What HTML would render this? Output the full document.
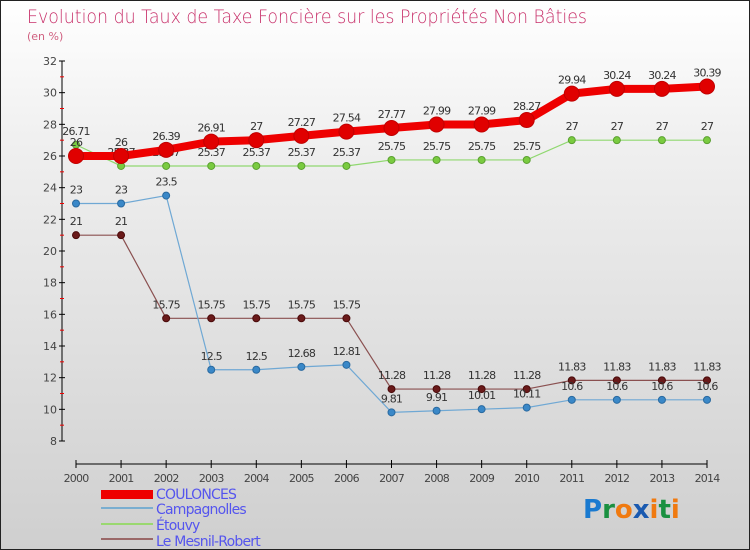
<!DOCTYPE html>
<html><head><meta charset="utf-8"><style>
body{margin:0}
#c{position:relative;width:748px;height:548px;border:1px solid #222;background:linear-gradient(#ffffff,#f0f0f0 25%,#cfcfcf);overflow:hidden;font-family:"DejaVu Sans","Liberation Sans",sans-serif}
</style></head><body>
<div id="c">
<svg id="s" width="748" height="548">
<text x="26" y="22" font-size="19" fill="#c8306a" font-weight="200" style="font-family:'DejaVu Sans',sans-serif;font-weight:200" textLength="560" lengthAdjust="spacingAndGlyphs">Evolution du Taux de Taxe Foncière sur les Propriétés Non Bâties</text>
<text x="26" y="39" font-size="11" fill="#d06080">(en %)</text>
<g id="axes"></g><g id="series"></g>
<g>
<rect x="100" y="489" width="52" height="9" fill="#e00"/>
<line x1="100" y1="507" x2="152" y2="507" stroke="#7aaed0" stroke-width="2"/>
<line x1="100" y1="523" x2="152" y2="523" stroke="#9ad870" stroke-width="2"/>
<line x1="100" y1="538" x2="152" y2="538" stroke="#9a6868" stroke-width="2"/>
<g font-size="14" fill="#5555ee" style="letter-spacing:-0.8px">
<text x="155" y="498">COULONCES</text>
<text x="155" y="513">Campagnolles</text>
<text x="155" y="529">Étouvy</text>
<text x="155" y="545">Le Mesnil-Robert</text>
</g></g>
<g font-size="26" font-weight="bold" style="font-family:'DejaVu Sans',sans-serif">
<text x="582" y="517"><tspan fill="#1a7ad0">P</tspan><tspan fill="#1a9040">r</tspan><tspan fill="#f07a10">o</tspan><tspan fill="#1a5ab0">x</tspan><tspan fill="#f07a10">i</tspan><tspan fill="#1a9040">t</tspan><tspan fill="#f07a10">i</tspan></text></g>
</svg></div>
<script>
const years=[2000,2001,2002,2003,2004,2005,2006,2007,2008,2009,2010,2011,2012,2013,2014];
const yTicks=[8,10,12,14,16,18,20,22,24,26,28,30,32];
const coulonces=[26,26,26.39,26.91,27,27.27,27.54,27.77,27.99,27.99,28.27,29.94,30.24,30.24,30.39];
const campagnolles=[23,23,23.5,12.5,12.5,12.68,12.81,9.81,9.91,10.01,10.11,10.6,10.6,10.6,10.6];
const etouvy=[26.71,25.37,25.37,25.37,25.37,25.37,25.37,25.75,25.75,25.75,25.75,27,27,27,27];
const mesnil=[21,21,15.75,15.75,15.75,15.75,15.75,11.28,11.28,11.28,11.28,11.83,11.83,11.83,11.83];
const NS="http://www.w3.org/2000/svg";
const X=i=>75+i*(706-75)/(years.length-1);
const Y=v=>60+(32-v)*(440-60)/24;
function mk(t,a,p){const e=document.createElementNS(NS,t);for(const k in a)e.setAttribute(k,a[k]);p.appendChild(e);return e;}
const ax=document.getElementById('axes'),se=document.getElementById('series');
let l=mk('line',{x1:61,y1:60,x2:61,y2:440,stroke:'#000'},ax);


l=mk('line',{x1:75,y1:463,x2:706,y2:463,stroke:'#000'},ax);


yTicks.forEach((v,i)=>{
 mk('line',{x1:58,x2:64,y1:Y(v),y2:Y(v),stroke:'#000'},ax);
 if(i<yTicks.length-1)mk('line',{x1:59,x2:63,y1:Y(v+1),y2:Y(v+1),stroke:'#e00'},ax);
 const t=mk('text',{x:56,y:Y(v)+4,'text-anchor':'end','font-size':11,fill:'#444'},ax);t.textContent=v;
 
 
});
years.forEach((y,i)=>{
 mk('line',{x1:X(i),x2:X(i),y1:459,y2:467,stroke:'#000'},ax);
 const t=mk('text',{x:X(i),y:481,'text-anchor':'middle','font-size':11,fill:'#444',style:'letter-spacing:-0.8px'},ax);t.textContent=y;
 
 
});
function series(d,name,col,w,r,fill,stroke){
 const g=mk('g',{},se);
 
 
 mk('polyline',{points:d.map((v,i)=>X(i)+','+Y(v)).join(' '),fill:'none',stroke:col,'stroke-width':w},g);
 d.forEach((v,i)=>{
  const c=mk('circle',{cx:X(i),cy:Y(v),r:r,fill:fill,stroke:stroke,'stroke-width':1},g);
  
  
  const t=mk('text',{x:X(i),y:Y(v)-10,'text-anchor':'middle','font-size':11,fill:'#333',style:'letter-spacing:-0.8px'},g);t.textContent=v;
  
  
 });
}
series(mesnil,'le-mesnil-robert','#8a5050',1.2,3.5,'#6a1a1a','#4a0a0a');
series(campagnolles,'campagnolles','#6fa8d4',1.2,3.5,'#3a88c8','#2a6aa0');
series(etouvy,'etouvy','#90d870',1.2,3.5,'#7acb40','#5aa030');
series(coulonces,'coulonces','#ee0000',8,7.5,'#e00000','#c00000');
</script>
</body></html>
